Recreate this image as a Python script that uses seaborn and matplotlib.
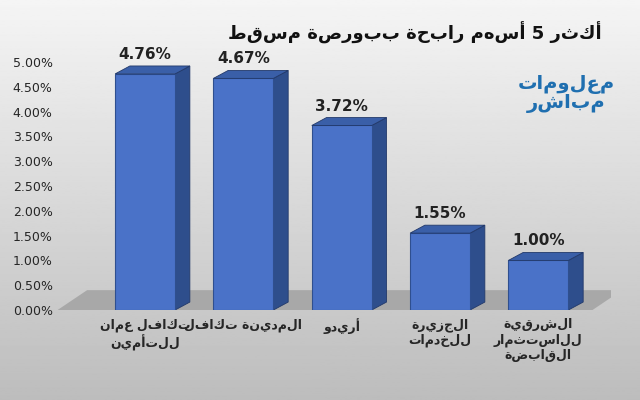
import matplotlib
matplotlib.use("Agg")
import matplotlib.pyplot as plt
import seaborn as sns
import numpy as np
import pandas as pd
from matplotlib.patches import Polygon

categories = ["تكافل عمان\nللتأمين", "المدينة تكافل", "أريدو", "الجزيرة\nللخدمات", "الشرقية\nللاستثمار\nالقابضة"]
values = [4.76, 4.67, 3.72, 1.55, 1.00]
title = "أكثر 5 أسهم رابحة ببورصة مسقط"

def rtl(s):
    return "\n".join(line[::-1] for line in s.split("\n"))

sns.set_theme(style="white")
plt.rcParams['font.family'] = ['DejaVu Sans']
fig = plt.figure(figsize=(6.4, 4.0), dpi=100)
bg = fig.add_axes([0, 0, 1, 1], zorder=-10)
grad = np.linspace(0.96, 0.74, 256).reshape(-1, 1)
bg.imshow(grad, cmap="gray", vmin=0, vmax=1, aspect="auto", extent=[0, 1, 0, 1])
bg.axis("off")

ax = fig.add_axes([0.09, 0.225, 0.865, 0.62])
ax.patch.set_alpha(0)
df = pd.DataFrame({"c": [rtl(c) for c in categories], "v": values})
sns.barplot(data=df, x="c", y="v", color="#4A72C8", width=0.61, ax=ax,
            edgecolor="#2F4F8F", linewidth=0.8, saturation=1, zorder=3)
dx, dy = 0.15, 0.16
n = len(values)
ax.add_patch(Polygon([(-0.89, 0), (n - 0.45, 0), (n - 0.45 + 2*dx, 2.5*dy), (-0.89 + 2*dx, 2.5*dy)],
                     closed=True, fc="#A8A8A8", ec="none", zorder=1))
for p in ax.patches[:n]:
    x0, w, h = p.get_x(), p.get_width(), p.get_height()
    ax.add_patch(Polygon([(x0 + w, 0), (x0 + w + dx, dy), (x0 + w + dx, h + dy), (x0 + w, h)],
                         closed=True, fc="#2E4E8C", ec="#22396A", lw=0.6, zorder=2))
    ax.add_patch(Polygon([(x0, h), (x0 + dx, h + dy), (x0 + w + dx, h + dy), (x0 + w, h)],
                         closed=True, fc="#3A5FA8", ec="#22396A", lw=0.6, zorder=4))
    ax.text(x0 + w / 2, h + dy + 0.08, f"{h:.2f}%", ha="center", va="bottom",
            fontsize=11, fontweight="bold", color="#222222", zorder=5)
ax.set_ylim(0, 5)
ax.set_xlim(-0.89, 4.74)
ax.set_yticks(np.arange(0, 5.01, 0.5))
ax.set_yticklabels([f"{t:.2f}%" for t in np.arange(0, 5.01, 0.5)], fontsize=9)
ax.tick_params(axis="x", labelsize=9, length=0, pad=6)
ax.tick_params(axis="y", length=0)
ax.set_xlabel(""); ax.set_ylabel("")
for s in ax.spines.values():
    s.set_visible(False)
for t in ax.get_xticklabels():
    t.set_fontweight("bold")
fig.text(0.94, 0.9, rtl(title), ha="right", fontsize=13, fontweight="bold", color="#111111")
fig.text(0.885, 0.765, rtl("معلومات\nمباشر"), ha="center", va="center", fontsize=14,
         fontweight="bold", color="#1F6FB0", linespacing=0.9)
fig.savefig("out.png", dpi=100)
